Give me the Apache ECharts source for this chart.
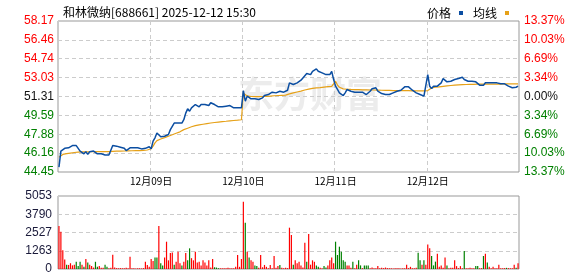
<!DOCTYPE html>
<html><head><meta charset="utf-8">
<script src="https://cdn.jsdelivr.net/npm/echarts@6/dist/echarts.min.js"></script>
<style>html,body{margin:0;padding:0;background:#fff}#c{width:578px;height:276px}</style>
</head><body><div id="c"></div>
<script>
const titleText = '和林微纳[688661] 2025-12-12 15:30';
const dayKeys = ['12-08','12-09','12-10','12-11','12-12'];
const dayLabels = ['12月08日','12月09日','12月10日','12月11日','12月12日'];
const priceTicks = ['44.45','46.16','47.88','49.59','51.31','53.03','54.74','56.46','58.17'];
const pctTicks = ['13.37%','10.03%','6.69%','3.34%','0.00%','3.34%','6.69%','10.03%','13.37%'];
const volTicks = ['0','1263','2527','3790','5053'];

// 5-minute samples, 48 per trading day
const price1 = [44.9,46.35,46.5,46.6,46.45,46.65,46.7,46.85,47.0,46.85,46.7,46.35,46.25,46.1,46.3,46.05,46.3,46.4,46.35,46.25,46.1,46.2,46.1,46.1,46.0,45.95,46.0,45.9,46.85,46.8,46.8,46.75,46.7,46.65,46.6,46.4,46.5,46.65,46.65,46.65,46.7,46.65,46.6,46.55,46.5,46.6,46.6,46.75];
const price2 = [46.56,47.25,47.56,48.0,47.86,47.65,47.47,47.7,47.77,47.86,48.3,48.6,48.9,48.98,48.9,49.07,48.9,49.2,49.8,50.19,49.97,50.28,50.43,50.58,50.49,50.37,50.58,50.74,50.58,50.67,50.49,50.74,50.88,50.58,50.43,50.37,50.43,50.37,50.49,50.43,50.37,50.49,50.43,50.28,50.28,50.28,50.19,50.28];
const price3 = [51.85,50.88,51.34,51.19,51.1,51.04,51.1,50.98,51.04,51.1,51.19,51.4,51.49,51.49,51.64,51.7,51.79,51.64,51.7,51.79,51.64,51.7,51.79,51.88,52.55,52.7,52.4,52.49,52.55,52.61,52.79,53.0,53.15,53.4,53.46,53.3,53.6,53.7,53.82,53.6,53.52,53.46,53.4,53.3,53.46,53.3,53.6,52.85];
const price4 = [52.25,51.95,51.64,51.49,51.4,51.64,51.95,51.88,51.79,51.95,51.7,51.79,51.7,51.64,51.7,51.58,51.49,51.64,51.79,52.01,52.19,52.1,51.79,51.64,51.58,51.49,51.49,51.4,51.49,51.64,51.64,51.7,51.79,51.79,51.88,52.01,52.19,52.3,52.19,52.01,51.88,51.79,51.64,51.64,51.49,51.4,51.34,51.19];
const price5 = [53.3,52.25,52.04,52.25,52.15,52.25,52.34,52.55,52.94,52.76,52.64,52.55,52.7,52.55,52.85,52.76,52.94,52.85,53.06,52.85,53.0,52.7,52.64,52.7,52.55,52.64,52.46,52.34,52.46,52.34,52.55,52.4,52.55,52.46,52.55,52.46,52.55,52.55,52.46,52.4,52.46,52.34,52.25,52.15,52.1,52.04,52.15,52.25];

const avg1 = [45.8,45.95,46.05,46.1,46.12,46.15,46.17,46.2,46.22,46.24,46.25,46.26,46.27,46.27,46.28,46.28,46.29,46.29,46.3,46.3,46.3,46.3,46.3,46.3,46.3,46.3,46.3,46.3,46.32,46.33,46.34,46.35,46.35,46.36,46.36,46.37,46.37,46.38,46.38,46.39,46.39,46.4,46.4,46.41,46.42,46.43,46.45,46.47];
const avg2 = [46.56,46.8,47.1,47.3,47.4,47.45,47.5,47.57,47.63,47.7,47.76,47.83,47.9,47.97,48.03,48.1,48.2,48.3,48.37,48.43,48.5,48.56,48.61,48.66,48.7,48.73,48.76,48.79,48.82,48.85,48.88,48.9,48.93,48.95,48.97,48.99,49.01,49.03,49.05,49.06,49.08,49.1,49.11,49.13,49.15,49.16,49.18,49.2];
const avg3 = [51.6,51.42,51.36,51.33,51.31,51.3,51.3,51.3,51.3,51.3,51.31,51.32,51.33,51.34,51.35,51.37,51.38,51.39,51.4,51.41,51.42,51.43,51.44,51.47,51.55,51.6,51.64,51.68,51.72,51.76,51.8,51.85,51.9,51.95,51.98,52.01,52.05,52.07,52.09,52.11,52.12,52.14,52.16,52.18,52.2,52.21,52.23,52.25];
const avg4 = [52.7,52.35,52.15,52.05,52.0,51.98,51.97,51.96,51.95,51.95,51.94,51.94,51.93,51.93,51.92,51.92,51.91,51.91,51.9,51.9,51.9,51.89,51.89,51.88,51.88,51.87,51.87,51.86,51.86,51.85,51.85,51.85,51.84,51.84,51.84,51.84,51.84,51.84,51.84,51.84,51.83,51.83,51.83,51.83,51.82,51.82,51.82,51.81];
const avg5 = [51.85,52.0,52.08,52.12,52.15,52.17,52.19,52.21,52.23,52.25,52.27,52.29,52.31,52.33,52.35,52.36,52.37,52.38,52.39,52.4,52.4,52.41,52.41,52.42,52.42,52.42,52.43,52.43,52.43,52.43,52.43,52.44,52.44,52.44,52.44,52.44,52.44,52.44,52.44,52.44,52.45,52.45,52.45,52.45,52.45,52.45,52.45,52.45];

const vol1 = [2970,2580,1300,650,300,280,400,250,300,500,200,500,300,150,700,450,300,200,100,500,150,200,80,80,300,150,60,80,980,100,60,50,60,50,60,80,50,840,60,50,40,60,50,40,60,500,280,150];
const vol2 = [690,560,800,800,2975,390,250,790,1890,600,1100,1150,300,500,1200,400,250,510,1100,600,1430,750,600,1200,450,500,250,600,450,250,600,100,690,120,100,60,50,60,50,60,80,50,60,60,150,970,150,690];
const vol3 = [4660,3200,1200,790,600,500,250,200,80,970,120,280,150,60,280,60,900,80,200,280,80,60,80,60,2860,2350,300,600,400,500,250,100,1820,510,2420,300,600,500,250,150,80,60,200,100,250,600,790,400];
const vol4 = [1890,970,1545,1200,600,500,250,250,80,510,60,300,600,250,60,250,250,250,60,100,60,60,200,60,80,60,100,60,50,50,40,50,60,50,40,50,60,300,60,150,60,60,80,1130,600,300,600,300];
const vol5 = [1700,1430,900,250,510,1050,150,250,80,790,250,60,80,80,600,200,60,200,60,1250,60,60,80,60,60,200,200,60,60,900,1050,450,150,60,150,60,60,300,60,60,60,80,60,60,60,300,80,400];

// 1 = up (red), 0 = down (green)
const dir1 = [1,1,1,1,0,1,1,1,1,0,0,0,1,0,1,0,1,1,1,0,0,1,1,1,0,0,1,1,1,1,1,1,1,1,1,1,1,1,1,1,1,1,1,1,1,1,1,1];
const dir2 = [1,1,0,0,1,0,0,1,1,1,1,1,0,1,1,1,0,1,1,0,0,1,1,1,1,1,1,1,1,1,1,1,1,0,0,0,1,1,1,1,1,1,1,1,1,1,1,1];
const dir3 = [1,0,1,0,1,1,0,0,1,1,1,1,1,1,1,1,1,1,1,0,1,1,1,1,1,1,0,1,1,1,1,1,1,0,1,1,1,1,0,0,1,1,0,0,1,1,1,1];
const dir4 = [0,0,0,0,0,0,1,1,1,0,1,1,0,0,1,0,0,0,1,1,1,1,1,1,1,1,1,1,1,1,1,1,1,1,1,1,1,1,1,1,1,1,1,0,0,1,0,1];
const dir5 = [1,1,0,0,0,1,1,1,1,1,0,1,1,1,1,1,1,1,1,0,1,1,1,1,1,0,0,1,1,0,1,0,1,1,1,1,1,1,1,1,1,0,1,1,1,1,0,1];

// ---- assemble ----
const PER_DAY = 48;
function sessionTimes() {
  const out = [];
  for (let k = 1; k <= 24; k++) { const m = 9*60+30+5*k; out.push(String(Math.floor(m/60)).padStart(2,'0')+':'+String(m%60).padStart(2,'0')); }
  for (let k = 1; k <= 24; k++) { const m = 13*60+5*k; out.push(String(Math.floor(m/60)).padStart(2,'0')+':'+String(m%60).padStart(2,'0')); }
  return out;
}
const times = sessionTimes();
const categories = [];
dayKeys.forEach(d => times.forEach(t => categories.push(d + ' ' + t)));
const prices = [].concat(price1, price2, price3, price4, price5);
const avgs = [].concat(avg1, avg2, avg3, avg4, avg5);
const vols = [].concat(vol1, vol2, vol3, vol4, vol5);
const dirs = [].concat(dir1, dir2, dir3, dir4, dir5);

const RED = '#ff0000', GREEN = '#008000', DARK = '#111';
const pMin = parseFloat(priceTicks[0]), pMax = parseFloat(priceTicks[priceTicks.length-1]);
const pStep = (pMax - pMin) / (priceTicks.length - 1);
const vMax = parseFloat(volTicks[volTicks.length-1]);
const vStep = vMax / (volTicks.length - 1);
const mid = (priceTicks.length - 1) / 2;
const pIdx = v => Math.round((v - pMin) / pStep);
const tickColor = v => { const i = pIdx(v); return i > mid ? RED : (i < mid ? GREEN : DARK); };
const isDayStart = i => i > 0 && i % PER_DAY === 0;

const chart = echarts.init(document.getElementById('c'), null, {renderer: 'canvas'});
const numFont = '"Liberation Sans", Arial, sans-serif';
const cjkFont = '"Noto Sans CJK SC", sans-serif';
chart.setOption({
  animation: false,
  backgroundColor: '#fff',
  title: { text: titleText, left: 58, top: 1, textStyle: { fontSize: 12, fontWeight: 'normal', color: '#000', fontFamily: cjkFont } },
  legend: {
    data: ['价格', '均线'], right: 64, top: 2, align: 'right', icon: 'rect',
    itemWidth: 4, itemHeight: 4, itemGap: 10,
    textStyle: { fontSize: 12, color: '#000', fontFamily: cjkFont, padding: [0, 3, 0, 0] }
  },
  graphic: [{
    type: 'text', left: 238, top: 76, z: -10, silent: true,
    style: { text: '东方财富', font: 'bold 36px "Noto Sans CJK SC"', fill: '#ececec' }
  }],
  grid: [
    { left: 58, right: 59, top: 21, height: 151, show: true, borderColor: '#999', borderWidth: 1 },
    { left: 58, right: 59, top: 196, height: 73, show: true, borderColor: '#999', borderWidth: 1 }
  ],
  xAxis: [
    {
      type: 'category', gridIndex: 0, data: categories, boundaryGap: true,
      axisLine: { show: false }, axisTick: { show: false },
      axisLabel: {
        interval: (i) => isDayStart(i), formatter: (v, i) => dayLabels[Math.floor(i / PER_DAY)],
        margin: 4, fontSize: 10, color: '#000', fontFamily: cjkFont
      },
      splitLine: { show: true, interval: (i) => isDayStart(i), lineStyle: { color: '#ccc', type: [4, 3], width: 1 } }
    },
    {
      type: 'category', gridIndex: 1, data: categories, boundaryGap: true,
      axisLine: { show: false }, axisTick: { show: false }, axisLabel: { show: false }, splitLine: { show: false }
    }
  ],
  yAxis: [
    {
      type: 'value', gridIndex: 0, min: pMin, max: pMax, interval: pStep, position: 'left',
      axisLine: { show: false }, axisTick: { show: false },
      axisLabel: { margin: 4, fontSize: 12, fontFamily: numFont, formatter: v => priceTicks[pIdx(v)], color: v => tickColor(v) },
      splitLine: { show: true, lineStyle: { color: '#ccc', type: [4, 3], width: 1 } }
    },
    {
      type: 'value', gridIndex: 0, min: pMin, max: pMax, interval: pStep, position: 'right',
      axisLine: { show: false }, axisTick: { show: false },
      axisLabel: { margin: 5, fontSize: 12, fontFamily: numFont, formatter: v => pctTicks[pIdx(v)], color: v => tickColor(v) },
      splitLine: { show: false }
    },
    {
      type: 'value', gridIndex: 1, min: 0, max: vMax, interval: vStep,
      axisLine: { show: false }, axisTick: { show: false },
      axisLabel: { margin: 6, fontSize: 12, fontFamily: numFont, color: '#1a1a3a', formatter: v => volTicks[Math.round(v / vStep)] },
      splitLine: { show: true, lineStyle: { color: '#ccc', type: [4, 3], width: 1 } }
    }
  ],
  series: [
    {
      name: '价格', type: 'line', xAxisIndex: 0, yAxisIndex: 0, data: prices, symbol: 'none',
      color: '#0b4ea2', lineStyle: { width: 1.5, color: '#0b4ea2' }, z: 4
    },
    {
      name: '均线', type: 'line', xAxisIndex: 0, yAxisIndex: 0, data: avgs, symbol: 'none',
      color: '#e6a118', lineStyle: { width: 1.2, color: '#e6a118' }, z: 3
    },
    {
      name: '成交量', type: 'bar', xAxisIndex: 1, yAxisIndex: 2, barWidth: 1.2,
      data: vols.map((v, i) => ({ value: v, itemStyle: { color: dirs[i] ? RED : GREEN } }))
    }
  ]
});
</script></body></html>
